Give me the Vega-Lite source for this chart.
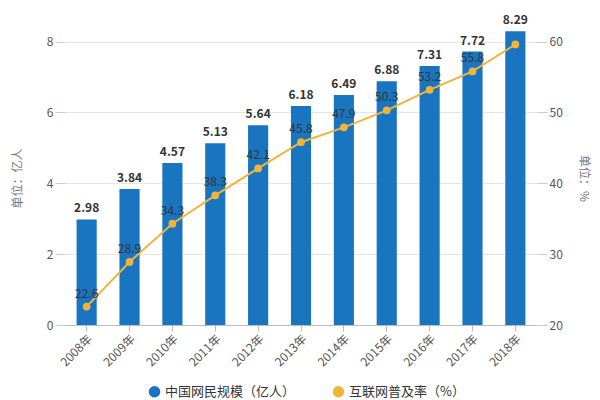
{
  "$schema": "https://vega.github.io/schema/vega-lite/v6.json",
  "width": 472,
  "height": 294,
  "autosize": "none",
  "padding": {"left": 65, "top": 31, "right": 63, "bottom": 75},
  "background": "white",
  "config": {
    "font": "Noto Sans CJK SC",
    "view": {"stroke": null},
    "axis": {"labelColor": "#555", "titleColor": "#777", "labelFontSize": 12, "titleFontWeight": "normal", "titleFontSize": 12}
  },
  "data": {
    "values": [
      {"year": "2008年", "users": 2.98, "rate": 22.6},
      {"year": "2009年", "users": 3.84, "rate": 28.9},
      {"year": "2010年", "users": 4.57, "rate": 34.3},
      {"year": "2011年", "users": 5.13, "rate": 38.3},
      {"year": "2012年", "users": 5.64, "rate": 42.1},
      {"year": "2013年", "users": 6.18, "rate": 45.8},
      {"year": "2014年", "users": 6.49, "rate": 47.9},
      {"year": "2015年", "users": 6.88, "rate": 50.3},
      {"year": "2016年", "users": 7.31, "rate": 53.2},
      {"year": "2017年", "users": 7.72, "rate": 55.8},
      {"year": "2018年", "users": 8.29, "rate": 59.6}
    ]
  },
  "encoding": {
    "x": {
      "field": "year", "type": "nominal", "sort": null,
      "scale": {"paddingInner": 0.53, "paddingOuter": 0.27},
      "axis": {"title": null, "labelAngle": -45, "labelAlign": "right", "labelBaseline": "top", "domainColor": "#bbb", "tickColor": "#bbb", "tickSize": 6, "labelPadding": 2, "labelFontSize": 12}
    }
  },
  "layer": [
    {
      "layer": [
        {
          "mark": {"type": "bar"},
          "encoding": {
            "y": {"field": "users", "type": "quantitative", "scale": {"domain": [0, 8.3], "nice": false},
              "axis": {"title": "单位：亿人", "values": [0, 2, 4, 6, 8], "domain": false, "gridColor": "#e6e6e6", "tickColor": "#ccc", "tickSize": 10, "titlePadding": 22}},
            "color": {"datum": "中国网民规模（亿人）", "type": "nominal",
              "scale": {"domain": ["中国网民规模（亿人）", "互联网普及率（%）"], "range": ["#1a75c1", "#f0b43c"]},
              "legend": {"title": null, "orient": "none", "direction": "horizontal", "legendX": 83, "legendY": 354, "symbolType": "circle", "symbolSize": 100, "symbolOpacity": 1, "labelFontSize": 13, "labelColor": "#333", "columnPadding": 34}}
          }
        },
        {
          "mark": {"type": "text", "dy": -11, "fontWeight": "bold", "fontSize": 12, "color": "#333"},
          "encoding": {
            "y": {"field": "users", "type": "quantitative"},
            "text": {"field": "users", "type": "quantitative", "format": ".2f"}
          }
        }
      ]
    },
    {
      "layer": [
        {
          "mark": {"type": "line", "strokeWidth": 2, "point": {"filled": true, "size": 60}},
          "encoding": {
            "y": {"field": "rate", "type": "quantitative", "scale": {"domain": [20, 61.5], "nice": false},
              "axis": {"title": "单位：%", "orient": "right", "values": [20, 30, 40, 50, 60], "grid": false, "domain": false, "tickColor": "#ccc", "tickSize": 10, "titleAngle": 90, "titlePadding": 14}},
            "color": {"datum": "互联网普及率（%）", "type": "nominal"}
          }
        },
        {
          "transform": [{"filter": "datum.year != '2018年'"}],
          "mark": {"type": "text", "dy": -13, "fontSize": 12, "color": "#333"},
          "encoding": {
            "y": {"field": "rate", "type": "quantitative"},
            "text": {"field": "rate", "type": "quantitative", "format": ".1f"}
          }
        }
      ]
    }
  ],
  "resolve": {"scale": {"y": "independent"}}
}
